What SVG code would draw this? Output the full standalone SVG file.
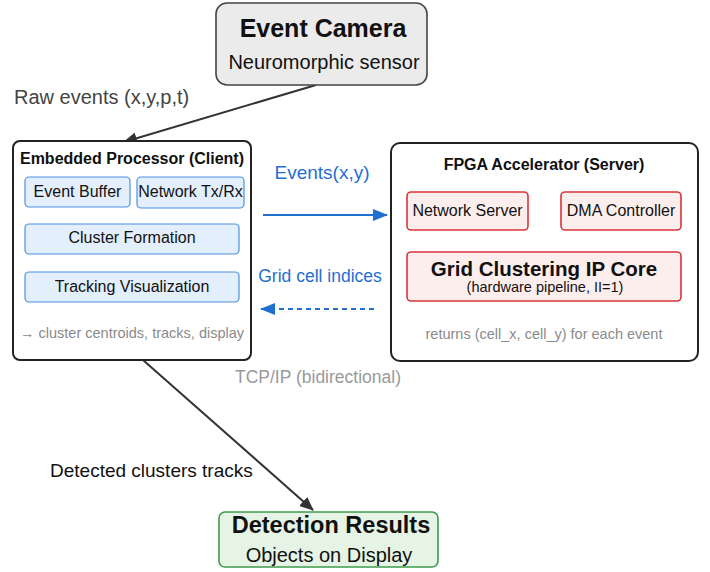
<svg xmlns="http://www.w3.org/2000/svg" width="710" height="572" viewBox="0 0 710 572">
<defs>
<style>
text{font-family:"Liberation Sans",Arial,sans-serif;}
.main{fill:#fff;stroke:#222;stroke-width:2;}
.sub-b{fill:#e3effc;stroke:#4a90e2;stroke-width:1.2;}
.sub-r{fill:#fdeeee;stroke:#d9343a;stroke-width:1.6;}
.t{fill:#111;}
.g{fill:#8a8a8a;}
.bl{fill:#1f6fd1;}
</style>
<marker id="ah" markerWidth="14" markerHeight="12" refX="13" refY="6" orient="auto" markerUnits="userSpaceOnUse" viewBox="0 0 14 12">
<path d="M0,0 L14,6 L0,12 z" fill="#333"/>
</marker>
<marker id="ahb" markerWidth="15" markerHeight="12" refX="14" refY="6" orient="auto" markerUnits="userSpaceOnUse" viewBox="0 0 15 12">
<path d="M0,0 L15,6 L0,12 z" fill="#1f6fd1"/>
</marker>
</defs>
<g id="connectors">
<line x1="316" y1="85" x2="124" y2="142" stroke="#333" stroke-width="2" marker-end="url(#ah)"/>
<text x="14" y="104" font-size="20" fill="#444">Raw events (x,y,p,t)</text>
<line x1="263" y1="215" x2="387" y2="215" stroke="#1f6fd1" stroke-width="2" marker-end="url(#ahb)"/>
<text x="322" y="179" font-size="19" text-anchor="middle" class="bl">Events(x,y)</text>
<line x1="374" y1="309" x2="261" y2="309" stroke="#1f6fd1" stroke-width="2" stroke-dasharray="5,4" marker-end="url(#ahb)"/>
<text x="320" y="282" font-size="17.5" text-anchor="middle" class="bl">Grid cell indices</text>
<text x="235" y="383" font-size="17.5" fill="#999">TCP/IP (bidirectional)</text>
<line x1="143" y1="360" x2="313" y2="510" stroke="#333" stroke-width="2" marker-end="url(#ah)"/>
<text x="50" y="477" font-size="19" class="t">Detected clusters tracks</text>
</g>
<g id="event-camera">
<rect x="216" y="3" width="211" height="82" rx="11" fill="#ebebeb" stroke="#444" stroke-width="1.6"/>
<text x="323" y="37" font-size="25" font-weight="bold" text-anchor="middle" class="t">Event Camera</text>
<text x="324" y="69" font-size="20" text-anchor="middle" class="t">Neuromorphic sensor</text>
</g>
<g id="embedded-processor">
<rect x="13" y="141" width="238" height="219" rx="7" class="main"/>
<text x="132" y="164" font-size="16" font-weight="bold" text-anchor="middle" class="t">Embedded Processor (Client)</text>
<g id="event-buffer"><rect x="25" y="177" width="105" height="30" rx="4" class="sub-b"/>
<text x="77.5" y="197" font-size="16" text-anchor="middle" class="t">Event Buffer</text></g>
<g id="network-txrx"><rect x="137" y="177" width="107" height="31" rx="4" class="sub-b"/>
<text x="190.5" y="197" font-size="16" text-anchor="middle" class="t">Network Tx/Rx</text></g>
<g id="cluster-formation"><rect x="25" y="224" width="214" height="30" rx="4" class="sub-b"/>
<text x="132" y="243" font-size="16" text-anchor="middle" class="t">Cluster Formation</text></g>
<g id="tracking-vis"><rect x="25" y="272" width="214" height="30" rx="4" class="sub-b"/>
<text x="132" y="292" font-size="16" text-anchor="middle" class="t">Tracking Visualization</text></g>
<text x="20" y="338" font-size="14.5" class="g">→ cluster centroids, tracks, display</text>
</g>
<g id="fpga-accelerator">
<rect x="391" y="143" width="307" height="218" rx="9" class="main"/>
<text x="544" y="170" font-size="16" font-weight="bold" text-anchor="middle" class="t">FPGA Accelerator (Server)</text>
<g id="network-server"><rect x="407" y="192" width="121" height="38" rx="4" class="sub-r"/>
<text x="467.5" y="216" font-size="16" text-anchor="middle" class="t">Network Server</text></g>
<g id="dma-controller"><rect x="561" y="192" width="120" height="38" rx="4" class="sub-r"/>
<text x="621" y="216" font-size="16" text-anchor="middle" class="t">DMA Controller</text></g>
<g id="grid-ip-core"><rect x="407" y="252" width="274" height="49" rx="4" class="sub-r"/>
<text x="544" y="276" font-size="20.5" font-weight="bold" text-anchor="middle" class="t">Grid Clustering IP Core</text>
<text x="545" y="292" font-size="14.5" text-anchor="middle" class="t">(hardware pipeline, II=1)</text></g>
<text x="544" y="339" font-size="14.5" text-anchor="middle" class="g">returns (cell_x, cell_y) for each event</text>
</g>
<g id="detection-results">
<rect x="219" y="512" width="219" height="55" rx="6" fill="#e6f4e6" stroke="#3f9a4c" stroke-width="1.6"/>
<text x="331" y="533" font-size="23.5" font-weight="bold" text-anchor="middle" class="t">Detection Results</text>
<text x="329" y="562" font-size="20" text-anchor="middle" class="t">Objects on Display</text>
</g>
</svg>
